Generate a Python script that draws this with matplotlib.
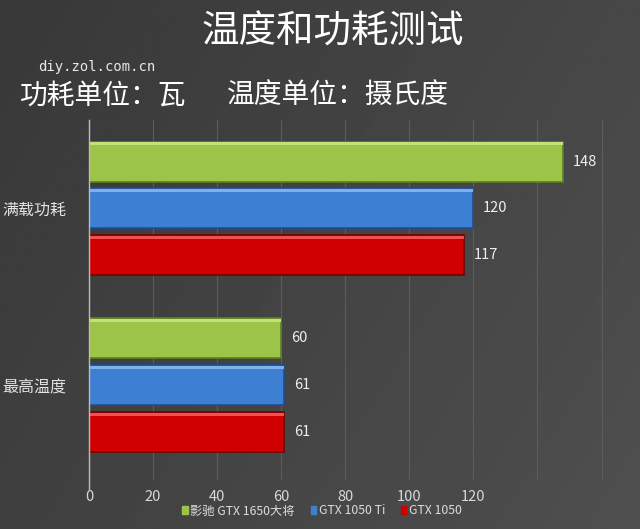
import numpy as np
import matplotlib
matplotlib.use("Agg")
import matplotlib.pyplot as plt

plt.rcParams['font.family'] = ['Noto Sans CJK SC', 'DejaVu Sans']

# === Data ===
categories = ["满载功耗", "最高温度"]
series_names = ["影驰 GTX 1650大将", "GTX 1050 Ti", "GTX 1050"]
values = {
    "影驰 GTX 1650大将": [148, 60],
    "GTX 1050 Ti": [120, 61],
    "GTX 1050": [117, 61],
}
colors = ["#9cc449", "#3d7fd2", "#d10000"]
edge_colors = ["#5f7f22", "#1f4f8f", "#7a0000"]
light_colors = ["#c4e07a", "#7fb0ec", "#f05050"]
xticks = [0, 20, 40, 60, 80, 100, 120]

# === Figure ===
fig = plt.figure(figsize=(6.4, 5.29), dpi=100)

# background gradient
bg = fig.add_axes([0, 0, 1, 1])
yy, xx = np.mgrid[0:1:200j, 0:1:200j]
grad = 0.22 + 0.06 * xx + 0.03 * yy
bg.imshow(grad, cmap="gray", vmin=0, vmax=1, aspect="auto", extent=[0, 1, 0, 1])
bg.axis("off")

ax = fig.add_axes([89 / 640, 1 - 480 / 529, 1 - 89 / 640, 360 / 529])
ax.patch.set_alpha(0)

step = 0.2655
h = 0.226
y = np.arange(len(categories))
for i, name in enumerate(series_names):
    pos = y + (i - 1) * step
    ax.barh(pos, values[name], height=h, color=colors[i], edgecolor=edge_colors[i],
            linewidth=1.2, zorder=3)
    # top highlight for bevel look
    ax.barh(pos - h / 2 + 0.012, values[name], height=0.02, color=light_colors[i],
            linewidth=0, zorder=4)
    for p, v in zip(pos, values[name]):
        ax.text(v + 3, p, str(v), color="#eeeeee", fontsize=10.5, va="center", ha="left")

ax.set_ylim(1.534, -0.5)
ax.set_xlim(0, 172)
ax.set_yticks(y)
ax.set_yticklabels(categories, color="#e4e4e4", fontsize=11.5)
ax.set_xticks(xticks)
ax.set_xticklabels([str(t) for t in xticks], color="#d8d8d8", fontsize=10.5)
ax.set_xticks([140, 160], minor=True)
ax.tick_params(axis="both", which="both", length=0)
ax.tick_params(axis="x", pad=7)
ax.tick_params(axis="y", pad=16)
ax.grid(True, axis="x", which="both", color="#5c5c5c", linewidth=0.8, zorder=0)
for s in ["top", "right", "bottom"]:
    ax.spines[s].set_visible(False)
ax.spines["left"].set_visible(False)
# left axis line reaching a bit below the plot area
ax.plot([0, 0], [-0.5, 1.59], color="#bdbdbd", linewidth=1, clip_on=False, zorder=5)

# legend
handles = [plt.Rectangle((0, 0), 1, 1, color=c) for c in colors]
fig.legend(handles, series_names, loc="center", bbox_to_anchor=(322 / 640, 1 - 511 / 529),
           ncol=3, frameon=False, fontsize=8.8, labelcolor="#dddddd",
           handlelength=0.45, handleheight=0.6, handletextpad=0.2, columnspacing=1.3)

# titles
fig.text(333 / 640, 1 - 32 / 529, "温度和功耗测试", color="white", fontsize=27,
         ha="center", va="center")
fig.text(38 / 640, 1 - 67 / 529, "diy.zol.com.cn", color="#e8e8e8", fontsize=10,
         family="DejaVu Sans Mono", ha="left", va="center")
fig.text(20 / 640, 1 - 96 / 529, "功耗单位：瓦", color="white", fontsize=20,
         ha="left", va="center")
fig.text(227 / 640, 1 - 96 / 529, "温度单位：摄氏度", color="white", fontsize=20,
         ha="left", va="center")

fig.savefig("out.png", dpi=100)
